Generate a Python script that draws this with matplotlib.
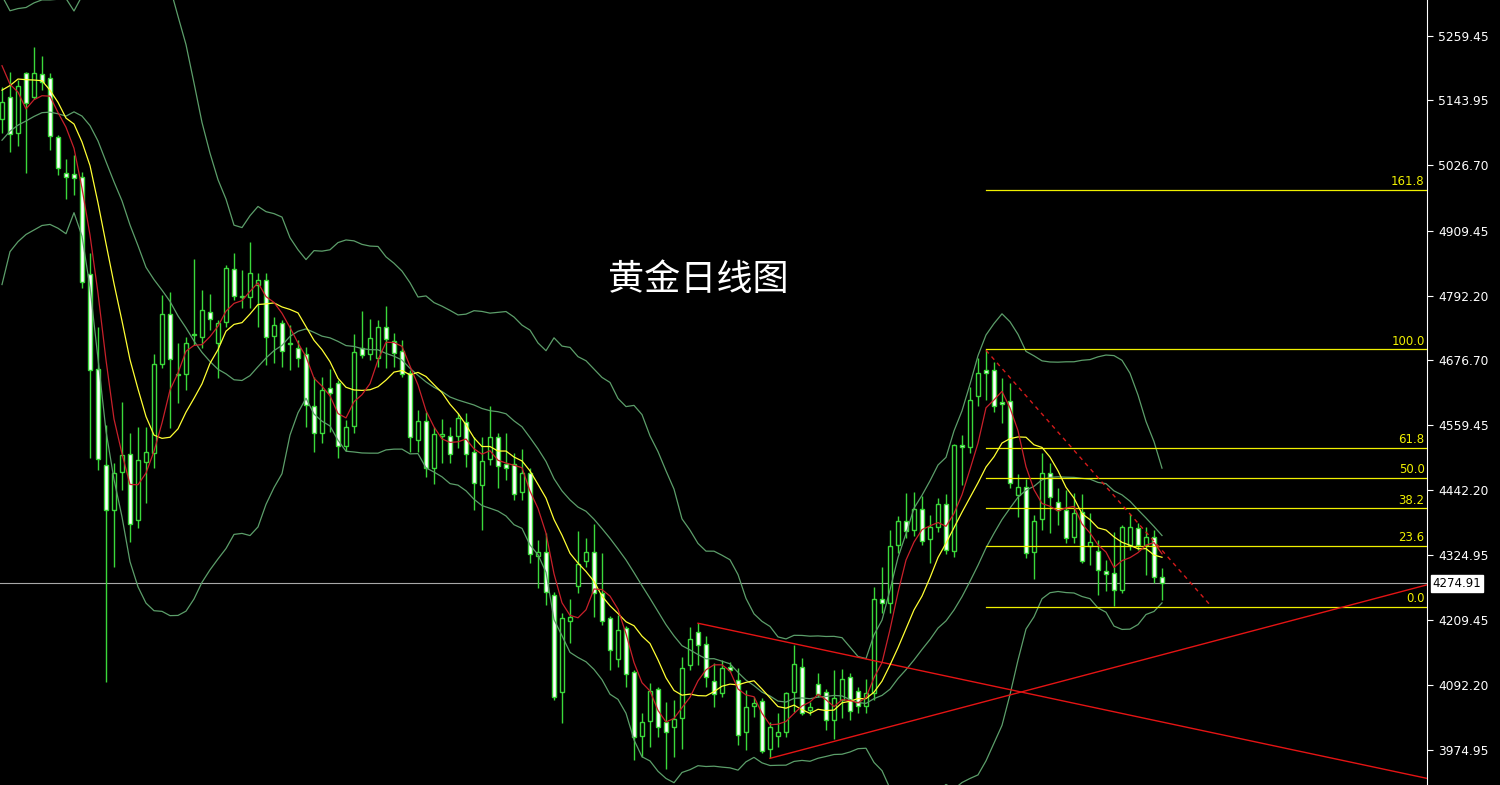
import numpy as np
import pandas as pd
import matplotlib.pyplot as plt

plt.rcParams['font.family'] = ['Noto Sans CJK SC', 'DejaVu Sans']

# daily candles, oldest first
opens = [5110, 5149, 5085, 5193, 5149, 5191, 5184, 5078, 5013, 5011,
         5006, 4831, 4660, 4487, 4406, 4475, 4507, 4389, 4493, 4509,
         4669, 4759, 4650, 4651, 4722, 4718, 4763, 4707, 4745, 4840,
         4790, 4790, 4811, 4820, 4720, 4743, 4707, 4698, 4687, 4594,
         4545, 4626, 4635, 4522, 4558, 4698, 4687, 4681, 4736, 4711,
         4693, 4653, 4532, 4567, 4482, 4540, 4540, 4540, 4565, 4511,
         4451, 4498, 4538, 4489, 4489, 4439, 4473, 4324, 4331, 4254,
         4079, 4207, 4270, 4315, 4331, 4257, 4212, 4138, 4194, 4115,
         4000, 4027, 4085, 4025, 4016, 4032, 4128, 4187, 4165, 4099,
         4077, 4124, 4101, 4007, 4054, 4063, 3977, 4000, 4007, 4079,
         4124, 4047, 4094, 4079, 4029, 4065, 4106, 4081, 4054, 4077,
         4246, 4239, 4344, 4387, 4371, 4408, 4354, 4376, 4417, 4333,
         4523, 4520, 4612, 4658, 4658, 4601, 4603, 4433, 4448, 4331,
         4390, 4473, 4421, 4406, 4358, 4403, 4342, 4333, 4297, 4293,
         4263, 4344, 4374, 4344, 4358, 4286]
highs = [5167, 5194, 5180, 5195, 5239, 5223, 5193, 5081, 5038, 5045,
         5015, 4869, 4736, 4559, 4491, 4601, 4545, 4556, 4556, 4687,
         4793, 4799, 4707, 4718, 4858, 4802, 4795, 4748, 4847, 4869,
         4838, 4889, 4833, 4833, 4754, 4748, 4739, 4712, 4700, 4646,
         4646, 4660, 4640, 4568, 4723, 4764, 4750, 4748, 4773, 4725,
         4712, 4658, 4586, 4583, 4556, 4570, 4556, 4581, 4581, 4538,
         4538, 4594, 4545, 4545, 4509, 4516, 4482, 4352, 4365, 4259,
         4221, 4246, 4369, 4356, 4381, 4329, 4216, 4218, 4198, 4119,
         4041, 4095, 4088, 4061, 4065, 4142, 4196, 4203, 4180, 4131,
         4137, 4133, 4122, 4083, 4070, 4068, 4025, 4041, 4079, 4164,
         4140, 4061, 4113, 4085, 4119, 4120, 4113, 4088, 4103, 4268,
         4304, 4371, 4396, 4437, 4439, 4432, 4398, 4428, 4435, 4525,
         4541, 4628, 4680, 4696, 4673, 4644, 4635, 4471, 4462, 4398,
         4509, 4491, 4446, 4442, 4437, 4435, 4401, 4352, 4317, 4367,
         4380, 4399, 4383, 4376, 4371, 4302]
lows = [5085, 5051, 5061, 5013, 5147, 5162, 5054, 5009, 4966, 4973,
        4806, 4500, 4478, 4097, 4304, 4442, 4349, 4374, 4419, 4482,
        4662, 4554, 4599, 4622, 4703, 4698, 4730, 4644, 4736, 4784,
        4770, 4770, 4736, 4667, 4671, 4664, 4658, 4664, 4556, 4511,
        4527, 4547, 4500, 4513, 4545, 4681, 4676, 4664, 4662, 4664,
        4646, 4511, 4511, 4466, 4453, 4491, 4491, 4518, 4484, 4406,
        4371, 4487, 4446, 4460, 4424, 4424, 4311, 4266, 4236, 4065,
        4023, 4167, 4257, 4304, 4214, 4200, 4119, 4124, 4088, 3957,
        3962, 3980, 3998, 3941, 3962, 3977, 4119, 4128, 4088, 4052,
        4070, 4115, 3984, 3975, 4034, 3969, 3960, 3980, 3998, 4043,
        4038, 4038, 4070, 4011, 3995, 4032, 4029, 4041, 4041, 4065,
        4221, 4221, 4329, 4356, 4360, 4344, 4311, 4367, 4327, 4322,
        4451, 4509, 4594, 4604, 4583, 4563, 4446, 4394, 4320, 4282,
        4371, 4365, 4380, 4347, 4347, 4311, 4308, 4254, 4261, 4234,
        4257, 4335, 4335, 4290, 4275, 4245]
closes = [5140, 5083, 5169, 5139, 5193, 5176, 5079, 5022, 5006, 5004,
          4817, 4658, 4498, 4406, 4473, 4505, 4381, 4496, 4511, 4669,
          4759, 4678, 4649, 4707, 4721, 4766, 4750, 4743, 4842, 4791,
          4791, 4833, 4820, 4718, 4739, 4693, 4705, 4681, 4595, 4545,
          4622, 4617, 4522, 4556, 4691, 4685, 4716, 4736, 4714, 4689,
          4651, 4538, 4567, 4482, 4543, 4543, 4507, 4572, 4507, 4455,
          4495, 4538, 4486, 4482, 4435, 4473, 4327, 4331, 4259, 4070,
          4212, 4214, 4309, 4331, 4257, 4207, 4155, 4191, 4111, 3998,
          4025, 4081, 4016, 4007, 4030, 4122, 4174, 4164, 4106, 4075,
          4122, 4119, 4002, 4052, 4059, 3973, 4016, 4007, 4077, 4130,
          4041, 4052, 4075, 4029, 4068, 4103, 4045, 4054, 4077, 4246,
          4239, 4342, 4387, 4369, 4408, 4351, 4376, 4417, 4335, 4523,
          4520, 4604, 4653, 4653, 4594, 4597, 4455, 4448, 4329, 4387,
          4473, 4430, 4406, 4356, 4401, 4315, 4349, 4299, 4291, 4263,
          4376, 4376, 4344, 4358, 4286, 4274.91]

# closes before the visible window, only used to warm up the indicators
warmup_close = [4760, 4950, 4990, 5030, 5040, 5060, 5080, 5091, 4850, 4969,
                5000, 5052, 5150, 5200, 5188, 5250, 5240, 5290, 5110]

last_price = 4274.91
price_ticks = [5259.45, 5143.95, 5026.70, 4909.45, 4792.20, 4676.70,
               4559.45, 4442.20, 4324.95, 4209.45, 4092.20, 3974.95]

# fibonacci retracement from swing low to swing high
fib_start = 123
fib_low = 4233
fib_high = 4696
fib_levels = [0.0, 23.6, 38.2, 50.0, 61.8, 100.0, 161.8]

# hand drawn trend lines (candle index, price)
falling_line = [(87, 4203), (178.1, 3924)]
rising_line = [(96, 3960), (178.1, 4272)]
dashed_line = [(123, 4694), (151, 4236)]

title = "黄金日线图"

green = '#3ad83a'
band_col = '#5c9e6a'

n = len(closes)
x = np.arange(n)
allc = pd.Series(warmup_close + closes)
k = len(warmup_close)
ma5 = allc.rolling(5).mean().values[k:]
ma10 = allc.rolling(10).mean().values[k:]
mid = allc.rolling(20).mean().values[k:]
sd = allc.rolling(20).std(ddof=0).values[k:]
upper = mid + 2 * sd
lower = mid - 2 * sd

fig = plt.figure(figsize=(15, 7.85), dpi=100, facecolor='black')
ax = fig.add_axes([0, 0, 1427 / 1500, 1])
ax.set_facecolor('black')
ax.set_xlim(-0.25, 178.125)
ax.set_ylim(3912.0, 5324.2)

o = np.array(opens); c = np.array(closes)
h = np.array(highs); l = np.array(lows)
ax.vlines(x, l, h, color=green, lw=1.0, zorder=2)
bottom = np.minimum(o, c)
height = np.maximum(np.abs(c - o), 1.8)
fills = ['white' if cc < oo else 'black' for oo, cc in zip(o, c)]
ax.bar(x, height, bottom=bottom, width=0.6, color=fills,
       edgecolor=green, linewidth=1.0, zorder=3)

# bollinger bands and moving averages
ax.plot(x, upper, color=band_col, lw=0.9, zorder=4)
ax.plot(x, mid, color=band_col, lw=0.9, zorder=4)
ax.plot(x, lower, color=band_col, lw=0.9, zorder=4)
ax.plot(x, ma10, color='#ffff33', lw=0.9, zorder=5)
ax.plot(x, ma5, color='#c8202a', lw=0.9, zorder=5)

# fibonacci levels
xr = ax.get_xlim()[1]
for lv in fib_levels:
    price = fib_low + (fib_high - fib_low) * lv / 100
    ax.plot([fib_start, xr], [price, price], color='#f0f000', lw=0.9, zorder=4)
    ax.text(xr - 0.3, price + 3, f'{lv:.1f}', color='#f0f000', fontsize=8.5,
            ha='right', va='bottom', family='DejaVu Sans', zorder=6)

# trend lines
for line in (falling_line, rising_line):
    ax.plot([p[0] for p in line], [p[1] for p in line], color='#e41414', lw=1.0, zorder=4)
ax.plot([p[0] for p in dashed_line], [p[1] for p in dashed_line], color='#d41a1a',
        lw=1.0, ls=(0, (3, 3)), zorder=4)

# current price line and tag
ax.axhline(last_price, color='#a8a8a8', lw=0.8, zorder=1)
ax.text(1.004, last_price, f'{last_price:.2f}', transform=ax.get_yaxis_transform(),
        color='black', fontsize=8.5, family='DejaVu Sans', va='center', ha='left',
        bbox=dict(boxstyle='square,pad=0.15', facecolor='white', edgecolor='white'),
        clip_on=False, zorder=10)

# right price axis
for s in ['left', 'top', 'bottom']:
    ax.spines[s].set_visible(False)
ax.spines['right'].set_color('white')
ax.spines['right'].set_linewidth(0.8)
ax.set_xticks([])
ax.yaxis.tick_right()
ax.set_yticks(price_ticks)
ax.set_yticklabels([f'{v:.2f}' for v in price_ticks], family='DejaVu Sans')
ax.tick_params(axis='y', colors='white', labelcolor='white', labelsize=8.8,
               length=4, width=0.8, direction='out', pad=4)

fig.text(698 / 1500, 1 - 280 / 785, title, color='white', fontsize=26,
         ha='center', va='center')

fig.savefig('out.png', dpi=100, facecolor='black')
